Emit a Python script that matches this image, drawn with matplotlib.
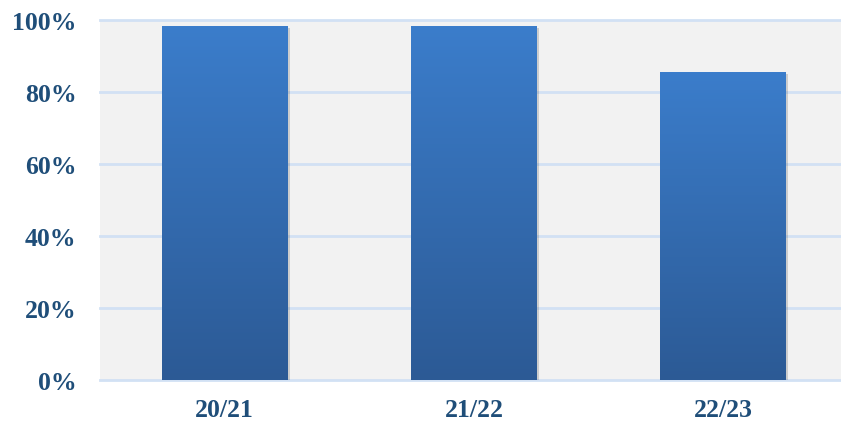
import matplotlib
matplotlib.use("Agg")
import matplotlib.pyplot as plt
import numpy as np
from matplotlib.colors import LinearSegmentedColormap
import matplotlib.patheffects as pe

categories = ["20/21", "21/22", "22/23"]
values = [0.984, 0.984, 0.856]
yticks = [0, 0.2, 0.4, 0.6, 0.8, 1.0]
ytick_labels = ["0%", "20%", "40%", "60%", "80%", "100%"]

W, H = 841, 427
fig = plt.figure(figsize=(W / 100, H / 100), dpi=100)
left, right = 100 / W, 1.0
bottom, top = (H - 380.7) / H, (H - 21.1) / H
ax = fig.add_axes([left, bottom, right - left, top - bottom])
ax.set_facecolor("#F2F2F2")

x = np.arange(len(categories))

text_color = "#1F4E79"
grid_color = "#D2E1F4"
for t in yticks:
    ax.axhline(t, color=grid_color, lw=2.0, zorder=0.5, clip_on=False)

cmap = LinearSegmentedColormap.from_list("g", ["#2C5A95", "#3B7DCB"])
grad = np.linspace(0, 1, 256).reshape(-1, 1)
bars = ax.bar(x, values, width=0.505, color="#3470B5", zorder=2,
              path_effects=[pe.SimplePatchShadow(offset=(1.5, -1.5), shadow_rgbFace="black", alpha=0.15),
                            pe.Normal()])
for b in bars:
    bx, by = b.get_x(), b.get_y()
    bw, bh = b.get_width(), b.get_height()
    im = ax.imshow(grad, cmap=cmap, origin="lower", aspect="auto",
                   extent=[bx, bx + bw, by, by + bh], zorder=2.5)
    im.set_clip_path(b)

ax.set_xlim(-0.5, 2.472)
ax.set_ylim(0, 1.0)

ax.set_yticks(yticks)
ax.set_yticklabels(ytick_labels)
ax.set_xticks(x)
ax.set_xticklabels(categories)
for lab in ax.get_yticklabels() + ax.get_xticklabels():
    lab.set_fontfamily("Liberation Serif")
    lab.set_fontweight("bold")
    lab.set_fontsize(18.5)
    lab.set_color(text_color)
ax.tick_params(axis="y", length=0, pad=17)
ax.tick_params(axis="x", length=0, pad=13)
for s in ax.spines.values():
    s.set_visible(False)

fig.savefig("out.png", dpi=100)
